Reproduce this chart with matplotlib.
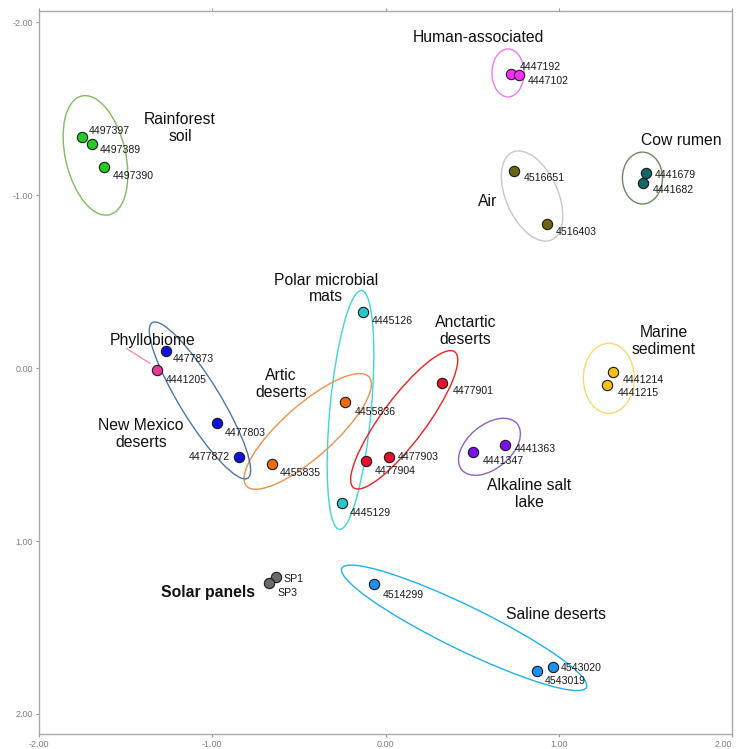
import numpy as np
import matplotlib
matplotlib.use("Agg")
import matplotlib.pyplot as plt
from matplotlib.patches import Ellipse

plt.rcParams['font.family'] = ['Liberation Sans', 'DejaVu Sans']
plt.rcParams['axes.unicode_minus'] = False

# Sample coordinates (ordination axes 1 and 2)
rainforest_ids = ['4497397', '4497389', '4497390']
rainforest_x = [-1.754, -1.692, -1.625]
rainforest_y = [-1.335, -1.296, -1.163]

human_ids = ['4447192', '4447102']
human_x = [0.723, 0.772]
human_y = [-1.701, -1.693]

cow_ids = ['4441679', '4441682']
cow_x = [1.502, 1.488]
cow_y = [-1.128, -1.071]

air_ids = ['4516651', '4516403']
air_x = [0.742, 0.930]
air_y = [-1.142, -0.833]

polar_ids = ['4445126', '4445129']
polar_x = [-0.128, -0.253]
polar_y = [-0.324, 0.782]

artic_ids = ['4455836', '4455835']
artic_x = [-0.234, -0.657]
artic_y = [0.194, 0.553]

antarctic_ids = ['4477901', '4477903', '4477904']
antarctic_x = [0.328, 0.018, -0.114]
antarctic_y = [0.084, 0.512, 0.539]

newmexico_ids = ['4477873', '4477803', '4477872']
newmexico_x = [-1.267, -0.974, -0.844]
newmexico_y = [-0.097, 0.316, 0.512]

phyllo_ids = ['4441205']
phyllo_x = [-1.317]
phyllo_y = [0.013]

alkaline_ids = ['4441363', '4441347']
alkaline_x = [0.692, 0.507]
alkaline_y = [0.445, 0.485]

marine_ids = ['4441214', '4441215']
marine_x = [1.315, 1.280]
marine_y = [0.022, 0.096]

solar_ids = ['SP1', 'SP3']
solar_x = [-0.634, -0.674]
solar_y = [1.206, 1.241]

saline_ids = ['4514299', '4543020', '4543019']
saline_x = [-0.065, 0.967, 0.874]
saline_y = [1.250, 1.729, 1.750]

ticks = [-2, -1, 0, 1, 2]

# (ids, x, y, point colour)
groups = [
    (rainforest_ids, rainforest_x, rainforest_y, '#22cc22'),
    (human_ids, human_x, human_y, '#ff2bff'),
    (cow_ids, cow_x, cow_y, '#0e6868'),
    (air_ids, air_x, air_y, '#6b6510'),
    (polar_ids, polar_x, polar_y, '#25c9c9'),
    (artic_ids, artic_x, artic_y, '#f06a12'),
    (antarctic_ids, antarctic_x, antarctic_y, '#e8102c'),
    (newmexico_ids, newmexico_x, newmexico_y, '#1212e0'),
    (phyllo_ids, phyllo_x, phyllo_y, '#e8389a'),
    (alkaline_ids, alkaline_x, alkaline_y, '#7a12ee'),
    (marine_ids, marine_x, marine_y, '#f5c012'),
    (solar_ids, solar_x, solar_y, '#6a6a6a'),
    (saline_ids, saline_x, saline_y, '#1e90ee'),
]

# label offsets in pixels (dx, dy with y down)
label_off = {
    '4497397': (7.6, -6.6), '4497389': (7.7, 6), '4497390': (8.7, 8.7),
    '4447192': (9.3, -7), '4447102': (8.7, 5.7),
    '4441679': (9.3, 2), '4441682': (9.7, 7),
    '4516651': (10, 7.3), '4516403': (9.3, 8),
    '4445126': (8.4, 8.7), '4445129': (8.3, 10),
    '4455836': (10, 10), '4455835': (8.3, 9.6),
    '4477901': (10, 8.6), '4477903': (9.6, 0), '4477904': (9.3, 9.4),
    '4477873': (6.3, 8), '4477803': (8, 10), '4477872': (-9.3, 0),
    '4441205': (8.4, 10),
    '4441363': (9.7, 4.3), '4441347': (9, 9.3),
    '4441214': (9.4, 8.3), '4441215': (10, 8.3),
    'SP1': (8.3, 2.3), 'SP3': (8.3, 10),
    '4514299': (8.4, 10.7), '4543020': (8, 0.7), '4543019': (8, 10.3),
}

# hand drawn group ellipses: centre x, centre y, width, height, angle, colour
ellipses = [
    (-1.674, -1.230, 0.705, 0.347, 77, '#7cbf5a'),
    (0.707, -1.707, 0.185, 0.277, 0, '#f07af0'),
    (1.483, -1.099, 0.231, 0.300, 0, '#6b8a5f'),
    (0.846, -0.995, 0.555, 0.300, 66, '#c8c8c8'),
    (-0.202, 0.242, 1.387, 0.238, -84.7, '#3fd6d6'),
    (-0.449, 0.366, 0.948, 0.300, -41.7, '#f0904a'),
    (0.108, 0.299, 0.979, 0.254, -53.4, '#f02020'),
    (-1.071, 0.187, 1.055, 0.231, 58.5, '#4a78a8'),
    (0.600, 0.455, 0.416, 0.252, -40, '#9060c0'),
    (1.289, 0.059, 0.294, 0.405, 0, '#f8d870'),
    (0.454, 1.502, 1.571, 0.254, 26, '#20b0f0'),
]

# group names: text, x, y, bold
group_titles = [
    ('Rainforest\nsoil', -1.186, -1.390, False),
    ('Human-associated', 0.534, -1.909, False),
    ('Cow rumen', 1.710, -1.315, False),
    ('Air', 0.592, -0.961, False),
    ('Polar microbial\nmats', -0.345, -0.460, False),
    ('Anctartic\ndeserts', 0.463, -0.216, False),
    ('Artic\ndeserts', -0.603, 0.094, False),
    ('New Mexico\ndeserts', -1.411, 0.383, False),
    ('Phyllobiome', -1.342, -0.157, False),
    ('Alkaline salt\nlake', 0.828, 0.729, False),
    ('Marine\nsediment', 1.604, -0.157, False),
    ('Solar panels', -1.026, 1.299, True),
    ('Saline deserts', 0.982, 1.422, False),
]

fig = plt.figure(figsize=(7.36, 7.49), dpi=100)
ax = fig.add_axes([39 / 736, 1 - 733.7 / 749, 693 / 736, 722.7 / 749])
ax.set_xlim(-2, 2)
ax.set_ylim(2.114, -2.065)

for cx, cy, w, h, ang, col in ellipses:
    ax.add_patch(Ellipse((cx, cy), w, h, angle=ang, fill=False,
                         edgecolor=col, linewidth=1.0, zorder=2))

for ids, xs, ys, col in groups:
    ax.scatter(xs, ys, s=55, c=col, edgecolors='#1a1a1a', linewidths=0.8, zorder=3)
    for i, x, y in zip(ids, xs, ys):
        dx, dy = label_off[i]
        ax.annotate(i, (x, y), xytext=(dx, -dy), textcoords='offset pixels',
                    fontsize=7.6, color='#1a1a1a', va='center',
                    ha='right' if dx < 0 else 'left', zorder=4)

# pointer line for Phyllobiome
ax.plot([-1.494, -1.360], [-0.113, -0.028], color='#f090c0', lw=1.0, zorder=2)

for txt, x, y, bold in group_titles:
    ax.text(x, y, txt, ha='center', va='center', fontsize=11.3,
            fontweight='bold' if bold else 'normal', color='#111111',
            linespacing=1.15, zorder=4)

ax.set_xticks(ticks)
ax.set_yticks(ticks)
ax.xaxis.set_major_formatter(plt.FormatStrFormatter('%.2f'))
ax.yaxis.set_major_formatter(plt.FormatStrFormatter('%.2f'))
ax.tick_params(axis='both', labelsize=6.5, labelcolor='#7f7f7f', color='#999999',
               length=2.5, width=0.8, pad=2)
ax.tick_params(axis='x', top=True)
for sp in ax.spines.values():
    sp.set_color('#aaaaaa')
    sp.set_linewidth(1.0)

# last x label sits at the figure edge, keep it inside
ax.get_xticklabels()[-1].set_horizontalalignment('right')

fig.savefig('out.png', dpi=100)
